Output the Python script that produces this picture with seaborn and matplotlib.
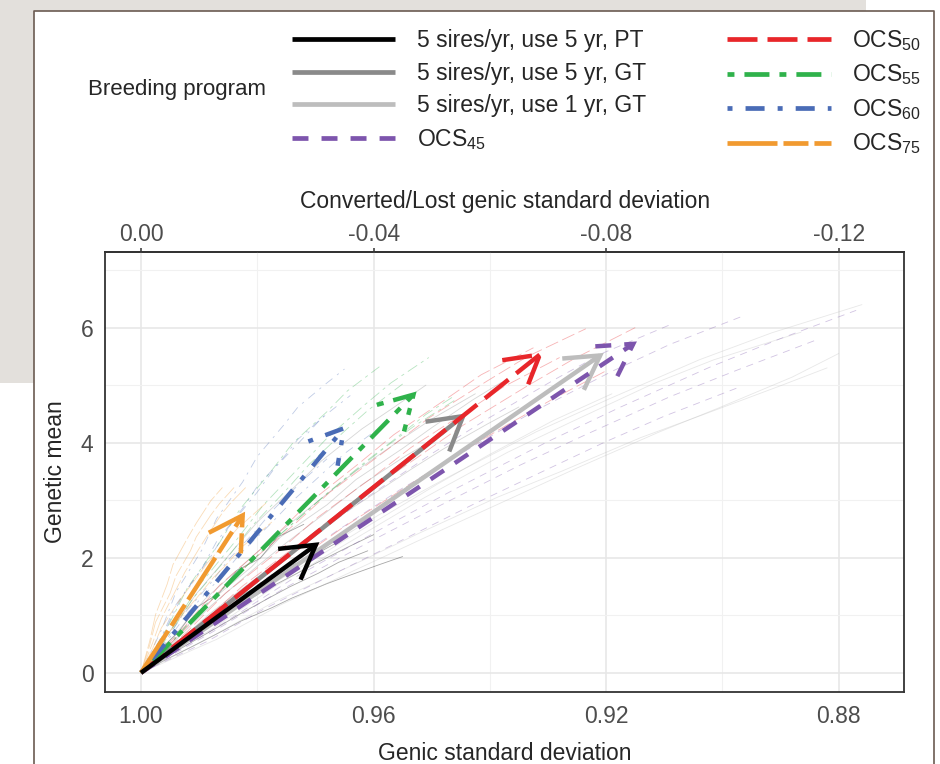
import numpy as np
import pandas as pd
import seaborn as sns
import matplotlib.pyplot as plt
from matplotlib.lines import Line2D
from matplotlib.patches import ArrowStyle, Rectangle

sns.set_style('white')
plt.rcParams['font.family'] = ['Liberation Sans', 'DejaVu Sans']
plt.rcParams['mathtext.default'] = 'regular'
plt.rcParams['lines.scale_dashes'] = False
plt.rcParams['axes.unicode_minus'] = False

programs = ['5 sires/yr, use 5 yr, PT', '5 sires/yr, use 5 yr, GT', '5 sires/yr, use 1 yr, GT',
            'OCS$_{45}$', 'OCS$_{50}$', 'OCS$_{55}$', 'OCS$_{60}$', 'OCS$_{75}$']
colors = ['#000000', '#8a8a8a', '#bdbdbd', '#7d55ad', '#e8262a', '#2fb24b', '#4a6cb6', '#f19a30']
# dash patterns in points (None = solid)
dashes = [None, None, None, (11.5, 9.4), (21.6, 7.2), (5, 7.2, 18, 7.2),
          (3.6, 9.4, 13.7, 9.4), (36, 4.3, 18, 4.3)]

# mean end point of each program (genic sd, genetic mean)
end_sd = [0.9693, 0.9440, 0.9204, 0.9147, 0.9308, 0.9526, 0.9646, 0.9821]
end_gm = [2.27, 4.51, 5.56, 5.76, 5.58, 4.89, 4.31, 2.80]

# replicate trajectories (genic sd / genetic mean per generation)
pt_sd = [[1, .9965, .9935, .9895, .9865, .982, .9785, .974, .9705, .966],
         [1, .996, .9915, .9880, .9825, .9790, .9735, .9700, .9645, .960],
         [1, .9955, .9915, .9865, .9830, .9775, .9740, .968, .9645, .959, .955],
         [1, .997, .9935, .9905, .9865, .9835, .9795, .9765, .972],
         [1, .9955, .9915, .9865, .9830, .978, .9745, .9695, .9660, .961]]
pt_gm = [[0, .30, .55, .88, 1.08, 1.39, 1.57, 1.87, 2.03, 2.28],
         [0, .33, .64, .89, 1.20, 1.42, 1.71, 1.90, 2.18, 2.40],
         [0, .24, .44, .70, .89, 1.13, 1.30, 1.55, 1.68, 1.88, 2.02],
         [0, .38, .71, 1.13, 1.39, 1.78, 1.99, 2.36, 2.58],
         [0, .28, .52, .81, 1.02, 1.30, 1.49, 1.73, 1.92, 2.12]]
gt5_sd = [[1, .994, .9890, .9815, .9760, .9685, .9630, .9555, .9500, .9425],
          [1, .9935, .9880, .980, .9745, .967, .9610, .9535, .9480, .9405, .935],
          [1, .995, .9905, .9845, .9800, .9735, .9690, .962, .9570, .951],
          [1, .9935, .9880, .9805, .9750, .9675, .9620, .9545, .948],
          [1, .994, .9885, .981, .9760, .968, .9630, .955, .9500, .943, .938]]
gt5_gm = [[0, .68, 1.28, 1.96, 2.46, 3.07, 3.51, 4.04, 4.41, 4.85],
          [0, .55, 1.04, 1.66, 2.08, 2.65, 3.04, 3.54, 3.89, 4.32, 4.62],
          [0, .72, 1.37, 2.09, 2.62, 3.24, 3.68, 4.24, 4.58, 5.00],
          [0, .62, 1.16, 1.81, 2.26, 2.84, 3.27, 3.77, 4.15],
          [0, .60, 1.21, 1.84, 2.36, 2.92, 3.36, 3.90, 4.26, 4.74, 5.05]]
gt1_sd = [[1, .9865, .9745, .959, .9470, .932, .9195, .904, .8915, .876],
          [1, .988, .9775, .963, .9525, .9385, .9275, .914, .9035, .890, .882],
          [1, .9875, .9765, .962, .9515, .937, .9260, .912, .9015, .8865],
          [1, .990, .9815, .9695, .9605, .949, .9405, .929, .919],
          [1, .987, .9760, .962, .9505, .936, .9250, .911, .9005, .888, .880]]
gt1_gm = [[0, .95, 1.80, 2.75, 3.41, 4.19, 4.76, 5.44, 5.91, 6.40],
          [0, .62, 1.21, 1.90, 2.41, 3.06, 3.51, 4.09, 4.48, 4.99, 5.30],
          [0, .78, 1.53, 2.40, 3.03, 3.83, 4.36, 5.02, 5.44, 5.92],
          [0, .66, 1.30, 2.02, 2.58, 3.28, 3.77, 4.39, 4.85],
          [0, .58, 1.18, 1.84, 2.38, 3.05, 3.56, 4.18, 4.61, 5.14, 5.55]]
o45_sd = [[1, .9885, .9785, .9655, .9555, .9425, .9325, .919, .9090, .896],
          [1, .987, .9755, .961, .9495, .935, .9235, .909, .8975, .884],
          [1, .990, .9815, .970, .9610, .9495, .9405, .929, .9205, .909],
          [1, .986, .9735, .958, .9455, .930, .9175, .902, .8900, .877],
          [1, .9885, .9790, .966, .9560, .943, .9330, .920, .9100, .8975]]
o45_gm = [[0, .85, 1.64, 2.52, 3.18, 3.96, 4.54, 5.24, 5.71, 6.22],
          [0, .75, 1.46, 2.26, 2.86, 3.60, 4.14, 4.80, 5.26, 5.78],
          [0, .80, 1.54, 2.40, 3.06, 3.84, 4.41, 5.09, 5.56, 6.05],
          [0, .85, 1.66, 2.54, 3.22, 4.02, 4.62, 5.32, 5.81, 6.30],
          [0, .55, 1.10, 1.76, 2.26, 2.92, 3.40, 4.02, 4.46, 4.95]]
o50_sd = [[1, .9915, .9845, .9745, .9675, .9575, .9505, .9405, .9335, .9235],
          [1, .992, .9855, .976, .9695, .960, .9535, .944, .9375, .928],
          [1, .9905, .9825, .9715, .9635, .9525, .9445, .9335, .9255, .915],
          [1, .9925, .9865, .9775, .9715, .9625, .9565, .9475, .9415, .9325],
          [1, .991, .9835, .973, .9655, .955, .9475, .937, .9295, .920]]
o50_gm = [[0, .85, 1.64, 2.50, 3.14, 3.89, 4.43, 5.07, 5.50, 5.98],
          [0, .72, 1.38, 2.14, 2.71, 3.41, 3.92, 4.54, 4.98, 5.48],
          [0, .78, 1.51, 2.34, 2.98, 3.74, 4.31, 4.99, 5.46, 6.00],
          [0, .80, 1.52, 2.32, 2.92, 3.64, 4.14, 4.76, 5.18, 5.65],
          [0, .65, 1.26, 1.97, 2.51, 3.19, 3.68, 4.31, 4.74, 5.25]]
o55_sd = [[1, .9945, .9900, .9835, .9790, .9725, .9680, .9615, .9570, .9505],
          [1, .995, .9910, .985, .9810, .975, .9710, .965, .9610, .955],
          [1, .994, .9890, .982, .9770, .970, .9650, .958, .9530, .946],
          [1, .9955, .9920, .9865, .9830, .9775, .9740, .968, .9645, .959],
          [1, .9945, .9900, .9835, .9790, .9725, .9680, .9615, .9570, .951, .946]]
o55_gm = [[0, .80, 1.52, 2.32, 2.91, 3.60, 4.08, 4.66, 5.04, 5.48],
          [0, .68, 1.30, 2.02, 2.54, 3.18, 3.63, 4.20, 4.56, 5.02],
          [0, .62, 1.18, 1.84, 2.32, 2.94, 3.36, 3.92, 4.29, 4.74],
          [0, .78, 1.48, 2.26, 2.84, 3.52, 3.98, 4.54, 4.90, 5.32],
          [0, .55, 1.06, 1.69, 2.14, 2.72, 3.12, 3.66, 4.01, 4.49, 4.82]]
o60_sd = [[1, .996, .9930, .988, .9850, .980, .9770, .972, .9690, .964],
          [1, .9965, .9940, .9895, .9870, .9825, .9800, .9755, .9730, .9685],
          [1, .9955, .9920, .9865, .9830, .9775, .9740, .9685, .9650, .9595],
          [1, .9965, .9940, .9895, .9870, .9825, .9800, .9755, .9730, .9685, .965],
          [1, .996, .9930, .988, .9850, .980, .9770, .972, .968]]
o60_gm = [[0, .70, 1.32, 2.02, 2.52, 3.14, 3.56, 4.09, 4.42, 4.82],
          [0, .62, 1.18, 1.82, 2.28, 2.86, 3.24, 3.74, 4.06, 4.46],
          [0, .55, 1.04, 1.64, 2.06, 2.61, 2.98, 3.49, 3.81, 4.22],
          [0, .74, 1.40, 2.14, 2.68, 3.32, 3.76, 4.30, 4.62, 5.00, 5.28],
          [0, .52, .98, 1.56, 1.96, 2.50, 2.86, 3.36, 3.72]]
o75_sd = [[1, .998, .9965, .994, .9925, .990, .9885, .986, .9845, .982],
          [1, .998, .9965, .9935, .9915, .9885, .9865, .9835, .9815, .9785],
          [1, .9985, .9975, .995, .9940, .9915, .9905, .988, .9865, .984],
          [1, .9975, .9955, .9925, .9905, .9875, .9855, .9825, .9805, .9775],
          [1, .9985, .9975, .9955, .9945, .992, .9905, .988, .986]]
o75_gm = [[0, .52, .94, 1.44, 1.74, 2.16, 2.40, 2.78, 2.96, 3.22],
          [0, .42, .78, 1.24, 1.51, 1.92, 2.14, 2.50, 2.68, 2.95],
          [0, .48, .88, 1.38, 1.68, 2.12, 2.36, 2.74, 2.94, 3.22],
          [0, .36, .66, 1.06, 1.29, 1.66, 1.86, 2.20, 2.36, 2.62],
          [0, .55, 1.01, 1.54, 1.88, 2.34, 2.60, 2.99, 3.22]]

rep_sd = [pt_sd, gt5_sd, gt1_sd, o45_sd, o50_sd, o55_sd, o60_sd, o75_sd]
rep_gm = [pt_gm, gt5_gm, gt1_gm, o45_gm, o50_gm, o55_gm, o60_gm, o75_gm]

rows = []
for p, sds, gms in zip(programs, rep_sd, rep_gm):
    for r, (xs, ys) in enumerate(zip(sds, gms)):
        for x, y in zip(xs, ys):
            rows.append((p, f'{p}_{r}', x, y))
df = pd.DataFrame(rows, columns=['program', 'rep', 'sd', 'gm'])

W, H = 940, 764
fig = plt.figure(figsize=(W / 100, H / 100), dpi=100)

# page frame around the figure
gray = '#e3e0dc'
fig.add_artist(Rectangle((0, 1 - 11 / H), 866 / W, 11 / H, transform=fig.transFigure,
                         color=gray, lw=0, zorder=-5))
fig.add_artist(Rectangle((0, 1 - 383 / H), 34 / W, 383 / H, transform=fig.transFigure,
                         color=gray, lw=0, zorder=-5))
edge = '#6b5b52'
fig.add_artist(Line2D([34 / W, 34 / W, 934 / W, 934 / W], [0, 1 - 11 / H, 1 - 11 / H, 0],
                      transform=fig.transFigure, color=edge, lw=1.2))

ax = fig.add_axes([105.3 / W, 1 - 691.5 / H, (904 - 105.3) / W, (691.5 - 251.7) / H])

thin = {p: ('' if d is None else tuple(v * 0.45 for v in d)) for p, d in zip(programs, dashes)}
sns.lineplot(data=df, x='sd', y='gm', hue='program', style='program', units='rep',
             estimator=None, sort=False, palette=dict(zip(programs, colors)),
             dashes=thin, lw=0.6, alpha=0.35, legend=False, ax=ax)

for i in [2, 1, 3, 4, 5, 6, 7, 0]:
    ls = '-' if dashes[i] is None else (0, dashes[i])
    ax.annotate('', xy=(end_sd[i], end_gm[i]), xytext=(1.0, 0.0),
                arrowprops=dict(arrowstyle=ArrowStyle('->', head_length=2.37, head_width=1.37),
                                mutation_scale=10, color=colors[i], lw=3.2, linestyle=ls,
                                shrinkA=0, shrinkB=0, capstyle='butt', joinstyle='miter'))

ax.set_xlim(1.00614, 0.86877)
ax.set_ylim(-0.326, 7.32)
ax.set_xticks([1.00, 0.96, 0.92, 0.88])
ax.set_xticklabels(['1.00', '0.96', '0.92', '0.88'])
ax.set_xticks([0.98, 0.94, 0.90], minor=True)
ax.set_yticks([0, 2, 4, 6])
ax.set_yticks([1, 3, 5, 7], minor=True)
ax.grid(True, which='major', color='#e6e6e6', lw=1.1)
ax.grid(True, which='minor', color='#f1f1f1', lw=0.8)
ax.set_axisbelow(True)
for s in ax.spines.values():
    s.set_color('#333333')
    s.set_linewidth(1.3)
ax.tick_params(which='major', length=3, width=1.1, color='#333333', labelcolor='#4d4d4d',
               labelsize=16.5)
ax.tick_params(axis='x', pad=6.5)
ax.tick_params(axis='y', pad=5.5)
ax.tick_params(which='minor', length=0)
ax.set_xlabel('Genic standard deviation', fontsize=16.5, labelpad=10)
ax.set_ylabel('Genetic mean', fontsize=16.5, labelpad=10)

sec = ax.secondary_xaxis('top', functions=(lambda v: v - 1, lambda v: v + 1))
sec.set_xticks([0.0, -0.04, -0.08, -0.12])
sec.set_xticklabels(['0.00', '-0.04', '-0.08', '-0.12'])
sec.tick_params(length=3, width=1.1, color='#333333', labelcolor='#4d4d4d', labelsize=16.5, pad=1)
sec.spines['top'].set_color('#333333')
sec.spines['top'].set_linewidth(1.3)
sec.set_xlabel('Converted/Lost genic standard deviation', fontsize=16.5, labelpad=11)

handles = []
for c, d in zip(colors, dashes):
    ls = '-' if d is None else (0, d)
    handles.append(Line2D([], [], color=c, lw=3.4, ls=ls, solid_capstyle='butt',
                          dash_capstyle='butt'))
fig.legend(handles, programs, ncol=2, loc='upper left', bbox_to_anchor=(292 / W, 1 - 28 / H),
           frameon=False, fontsize=16.5, handlelength=4.5, handletextpad=0.95,
           columnspacing=3.55, labelspacing=0.42, borderpad=0, borderaxespad=0)
fig.text(88 / W, 1 - 90 / H, 'Breeding program', fontsize=16, va='center', ha='left')

fig.savefig('out.png', dpi=100)
